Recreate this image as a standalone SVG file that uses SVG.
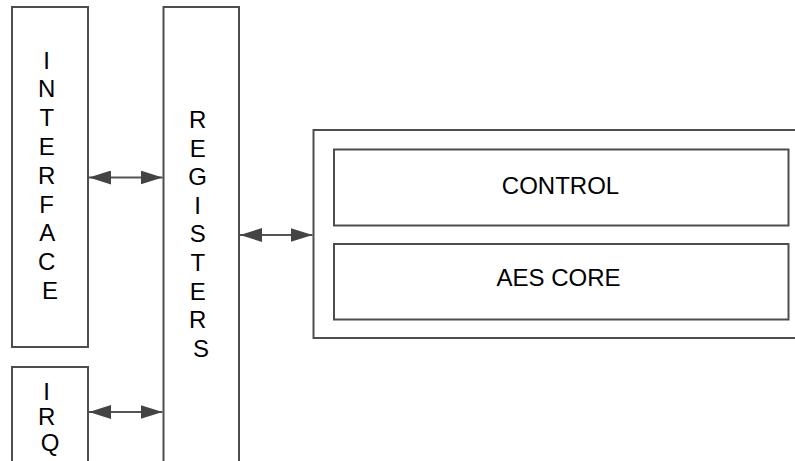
<svg xmlns="http://www.w3.org/2000/svg" width="795" height="461" viewBox="0 0 795 461">
  <style>
    .box { fill: #ffffff; stroke: #4d4d4d; stroke-width: 2; }
    .lbl { font-family: "Liberation Sans", Arial, sans-serif; font-size: 24px; fill: #000000; text-anchor: middle; }
    .link { stroke: #555555; stroke-width: 2; fill: none; }
    .head { fill: #444444; }
  </style>
  <defs>
    <marker id="tip" viewBox="0 0 22 14" refX="22" refY="7" markerWidth="22" markerHeight="14" markerUnits="userSpaceOnUse" orient="auto-start-reverse">
      <path class="head" d="M0,0 L22,7 L0,14 Z"/>
    </marker>
  </defs>
  <rect width="795" height="461" fill="#ffffff"/>

  <g id="interface">
    <rect class="box" x="12" y="7" width="76" height="340"/>
    <text class="lbl" x="50" y="68.5">
      <tspan x="50">I</tspan>
      <tspan x="50" dy="28.8">N</tspan>
      <tspan x="50" dy="28.8">T</tspan>
      <tspan x="50" dy="28.8">E</tspan>
      <tspan x="50" dy="28.8">R</tspan>
      <tspan x="50" dy="28.8">F</tspan>
      <tspan x="50" dy="28.8">A</tspan>
      <tspan x="50" dy="28.8">C</tspan>
      <tspan x="50" dy="28.8">E</tspan>
    </text>
  </g>

  <g id="irq">
    <rect class="box" x="12" y="367" width="76" height="100"/>
    <text class="lbl" x="50" y="399.5">
      <tspan x="50">I</tspan>
      <tspan x="50" dy="25.5">R</tspan>
      <tspan x="50" dy="25.5">Q</tspan>
    </text>
  </g>

  <g id="registers">
    <rect class="box" x="163.5" y="7" width="75.5" height="460"/>
    <text class="lbl" x="201" y="128">
      <tspan x="201">R</tspan>
      <tspan x="201" dy="28.6">E</tspan>
      <tspan x="201" dy="28.6">G</tspan>
      <tspan x="201" dy="28.6">I</tspan>
      <tspan x="201" dy="28.6">S</tspan>
      <tspan x="201" dy="28.6">T</tspan>
      <tspan x="201" dy="28.6">E</tspan>
      <tspan x="201" dy="28.6">R</tspan>
      <tspan x="201" dy="28.6">S</tspan>
    </text>
  </g>

  <g id="core-block">
    <rect class="box" x="313.5" y="130" width="500" height="208"/>
  </g>

  <g id="control">
    <rect class="box" x="334" y="149.5" width="454.5" height="76"/>
    <text class="lbl" x="560.5" y="194">CONTROL</text>
  </g>

  <g id="aes-core">
    <rect class="box" x="334" y="244" width="454.5" height="75.5"/>
    <text class="lbl" x="558.5" y="286">AES CORE</text>
  </g>

  <g id="connectors">
    <line class="link" x1="89" y1="177.5" x2="162.5" y2="177.5" marker-start="url(#tip)" marker-end="url(#tip)"/>
    <line class="link" x1="89" y1="412" x2="162.5" y2="412" marker-start="url(#tip)" marker-end="url(#tip)"/>
    <line class="link" x1="240" y1="235" x2="312.5" y2="235" marker-start="url(#tip)" marker-end="url(#tip)"/>
  </g>
</svg>
